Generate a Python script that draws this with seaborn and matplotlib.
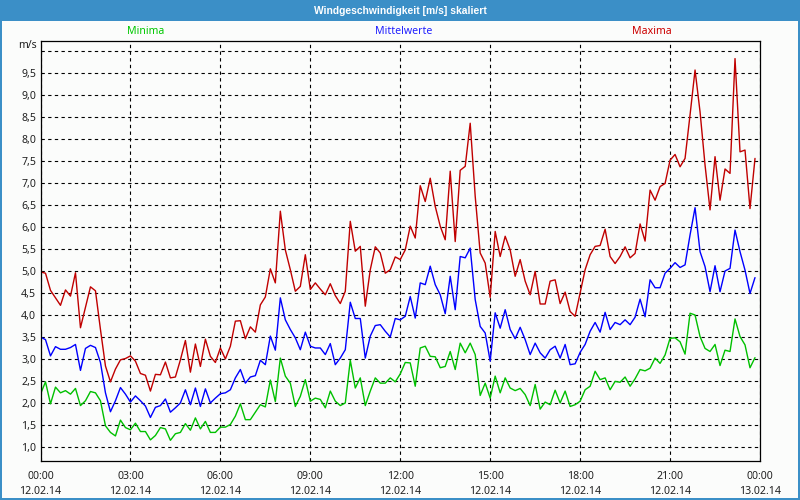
import numpy as np
import pandas as pd
import matplotlib
matplotlib.use("Agg")
import matplotlib.pyplot as plt
import seaborn as sns
from matplotlib.patches import Rectangle

# ---- data (10-minute values, 12.02.14 00:00 .. 23:50) ----
minima = [2.20, 2.48, 1.98, 2.36, 2.23, 2.28, 2.20, 2.33, 1.94, 2.05, 2.26, 2.23,
          2.05, 1.48, 1.33, 1.25, 1.61, 1.44, 1.39, 1.54, 1.35, 1.35, 1.16, 1.26,
          1.44, 1.41, 1.15, 1.30, 1.33, 1.53, 1.38, 1.66, 1.41, 1.58, 1.33, 1.33,
          1.45, 1.45, 1.51, 1.70, 1.98, 1.62, 1.62, 1.79, 1.96, 1.91, 2.52, 2.03,
          3.02, 2.61, 2.45, 1.92, 2.15, 2.53, 2.04, 2.11, 2.08, 1.89, 2.27, 2.04,
          1.94, 2.00, 2.97, 2.34, 2.57, 1.94, 2.27, 2.57, 2.45, 2.45, 2.57, 2.48,
          2.66, 2.92, 2.91, 2.38, 3.25, 3.29, 3.06, 3.05, 2.80, 2.83, 3.17, 2.76,
          3.36, 3.14, 3.36, 3.10, 2.17, 2.45, 2.11, 2.61, 2.23, 2.57, 2.34, 2.28,
          2.33, 2.19, 1.94, 2.42, 1.86, 2.02, 1.96, 2.29, 2.00, 2.27, 1.92, 1.96,
          2.04, 2.30, 2.38, 2.72, 2.53, 2.57, 2.30, 2.49, 2.47, 2.59, 2.38, 2.55,
          2.76, 2.73, 2.79, 3.02, 2.90, 3.09, 3.47, 3.48, 3.39, 3.11, 4.04, 4.00,
          3.51, 3.24, 3.17, 3.33, 2.85, 3.20, 3.17, 3.91, 3.51, 3.32, 2.80, 3.03]

mittelwerte = [3.50, 3.44, 3.07, 3.28, 3.22, 3.22, 3.26, 3.33, 2.74, 3.24, 3.31, 3.26,
               2.92, 2.23, 1.80, 2.05, 2.35, 2.20, 2.02, 2.16, 2.05, 1.93, 1.67, 1.90,
               1.94, 2.09, 1.79, 1.89, 2.00, 2.30, 1.96, 2.34, 1.92, 2.32, 2.00, 2.11,
               2.21, 2.23, 2.30, 2.57, 2.76, 2.45, 2.59, 2.62, 2.97, 2.87, 3.52, 3.20,
               4.39, 3.89, 3.67, 3.48, 3.21, 3.61, 3.29, 3.25, 3.25, 3.10, 3.35, 2.87,
               3.02, 3.21, 4.29, 3.92, 3.92, 3.02, 3.52, 3.76, 3.78, 3.63, 3.50, 3.92,
               3.89, 3.97, 4.42, 3.93, 4.73, 4.69, 5.11, 4.69, 4.46, 4.03, 4.88, 4.12,
               5.33, 5.30, 5.52, 4.35, 3.74, 3.59, 2.95, 4.05, 3.70, 4.12, 3.67, 3.46,
               3.72, 3.44, 3.10, 3.36, 3.14, 3.02, 3.21, 3.29, 3.02, 3.33, 2.87, 2.89,
               3.15, 3.33, 3.63, 3.83, 3.61, 4.06, 3.67, 3.83, 3.78, 3.89, 3.78, 3.95,
               4.36, 3.96, 4.80, 4.62, 4.62, 4.95, 5.06, 5.19, 5.08, 5.14, 5.82, 6.44,
               5.44, 5.10, 4.53, 5.12, 4.53, 5.00, 5.06, 5.93, 5.44, 5.02, 4.49, 4.85]

maxima = [4.98, 4.95, 4.56, 4.39, 4.22, 4.57, 4.43, 4.96, 3.71, 4.17, 4.64, 4.55,
          3.67, 2.84, 2.48, 2.77, 2.98, 3.01, 3.07, 2.95, 2.67, 2.63, 2.27, 2.65,
          2.64, 2.93, 2.57, 2.59, 2.98, 3.42, 2.70, 3.34, 2.83, 3.45, 3.06, 2.92,
          3.25, 3.00, 3.29, 3.86, 3.87, 3.46, 3.73, 3.61, 4.23, 4.41, 5.05, 4.73,
          6.36, 5.48, 5.03, 4.54, 4.65, 5.37, 4.58, 4.73, 4.59, 4.46, 4.71, 4.44,
          4.26, 4.54, 6.13, 5.45, 5.56, 4.20, 5.03, 5.55, 5.41, 4.95, 5.03, 5.32,
          5.26, 5.48, 6.02, 5.75, 6.94, 6.58, 7.11, 6.47, 6.02, 5.71, 7.27, 5.67,
          7.29, 7.38, 8.36, 6.70, 5.41, 5.18, 4.40, 5.90, 5.33, 5.79, 5.48, 4.88,
          5.26, 4.77, 4.46, 4.99, 4.25, 4.25, 4.77, 4.80, 4.26, 4.52, 4.08, 3.97,
          4.50, 5.03, 5.37, 5.56, 5.58, 5.95, 5.33, 5.17, 5.33, 5.55, 5.30, 5.40,
          6.07, 5.68, 6.84, 6.61, 6.92, 6.99, 7.52, 7.65, 7.37, 7.56, 8.55, 9.57,
          8.62, 7.41, 6.39, 7.60, 6.61, 7.32, 7.22, 9.83, 7.71, 7.75, 6.42, 7.56]

series_names = ["Minima", "Mittelwerte", "Maxima"]
series_colors = ["#00c000", "#0000ff", "#c00000"]
label_colors = ["#00c800", "#2020ff", "#cc0000"]

x_tick_hours = [0, 3, 6, 9, 12, 15, 18, 21, 24]
x_tick_labels = ["00:00\n12.02.14", "03:00\n12.02.14", "06:00\n12.02.14",
                 "09:00\n12.02.14", "12:00\n12.02.14", "15:00\n12.02.14",
                 "18:00\n12.02.14", "21:00\n12.02.14", "00:00\n13.02.14"]
y_ticks = [1.0, 1.5, 2.0, 2.5, 3.0, 3.5, 4.0, 4.5, 5.0, 5.5, 6.0, 6.5,
           7.0, 7.5, 8.0, 8.5, 9.0, 9.5, 10.0]
y_tick_labels = ["1,0", "1,5", "2,0", "2,5", "3,0", "3,5", "4,0", "4,5", "5,0",
                 "5,5", "6,0", "6,5", "7,0", "7,5", "8,0", "8,5", "9,0", "9,5", ""]

title = "Windgeschwindigkeit [m/s] skaliert"
unit_label = "m/s"

# ---- build long table ----
hours = np.arange(len(maxima)) / 6.0
frames = []
for name, vals in zip(series_names, [minima, mittelwerte, maxima]):
    frames.append(pd.DataFrame({"hour": hours, "value": vals, "series": name}))
df = pd.concat(frames, ignore_index=True)

sns.set_style("white")
plt.rcParams['font.family'] = ['Noto Sans', 'DejaVu Sans']

W, H = 800, 500
bg = "#fbfcfb"
fig = plt.figure(figsize=(8, 5), dpi=100, facecolor=bg)

# plot area in pixel terms: x 40.5..760, y 41..461
ax = fig.add_axes([40.5 / W, (H - 461) / H, (760 - 40.5) / W, (461 - 41) / H])
ax.set_facecolor(bg)

sns.lineplot(data=df, x="hour", y="value", hue="series",
             palette=dict(zip(series_names, series_colors)),
             hue_order=series_names, legend=False, linewidth=1.0,
             estimator=None, ax=ax)

ax.set_xlim(0, 24)
ax.set_ylim(0.68, 10.23)
ax.set_xlabel("")
ax.set_ylabel("")

ax.set_xticks(x_tick_hours)
ax.set_xticklabels(x_tick_labels)
ax.set_xticks(np.arange(0, 25, 1), minor=True)
ax.set_yticks(y_ticks)
ax.set_yticklabels(y_tick_labels)

ax.set_axisbelow(True)
ax.grid(True, which="major", color="black", linestyle=(0, (3, 3)), linewidth=0.8)

ax.tick_params(axis="x", which="both", direction="out", length=2.3, width=0.8,
               color="black", pad=5, labelsize=7.6, labelcolor="#202020")
ax.tick_params(axis="y", which="both", length=0, pad=3.2, labelsize=7.6,
               labelcolor="#202020")
for lab in ax.get_xticklabels():
    lab.set_linespacing(1.5)

for sp in ax.spines.values():
    sp.set_visible(True)
    sp.set_color("black")
    sp.set_linewidth(0.9)

# ---- window decoration ----
bar_h = 20.7
fig.patches.append(Rectangle((0, 1 - bar_h / H), 1, bar_h / H, transform=fig.transFigure,
                             facecolor="#3b8fc7", edgecolor="none", zorder=0))
fig.patches.append(Rectangle((0, 0), 2 / W, 1, transform=fig.transFigure,
                             facecolor="#3b8fc7", edgecolor="none", zorder=0))
fig.patches.append(Rectangle((1 - 2 / W, 0), 2 / W, 1, transform=fig.transFigure,
                             facecolor="#3b8fc7", edgecolor="none", zorder=0))
fig.patches.append(Rectangle((0, 0), 1, 2 / H, transform=fig.transFigure,
                             facecolor="#3b8fc7", edgecolor="none", zorder=0))

fig.text(0.5, 1 - 10.5 / H, title, color="white", fontsize=7.4, fontweight="bold",
         family=["Liberation Sans", "DejaVu Sans"], ha="center", va="center")

label_x = [146, 404, 652]
for name, col, lx in zip(series_names, label_colors, label_x):
    fig.text(lx / W, 1 - 32 / H, name, color=col, fontsize=7.6, ha="center", va="center")

fig.text(36.8 / W, 1 - 46 / H, unit_label, color="#202020", fontsize=7.6,
         ha="right", va="center")

fig.savefig("out.png", dpi=100, facecolor=bg)
